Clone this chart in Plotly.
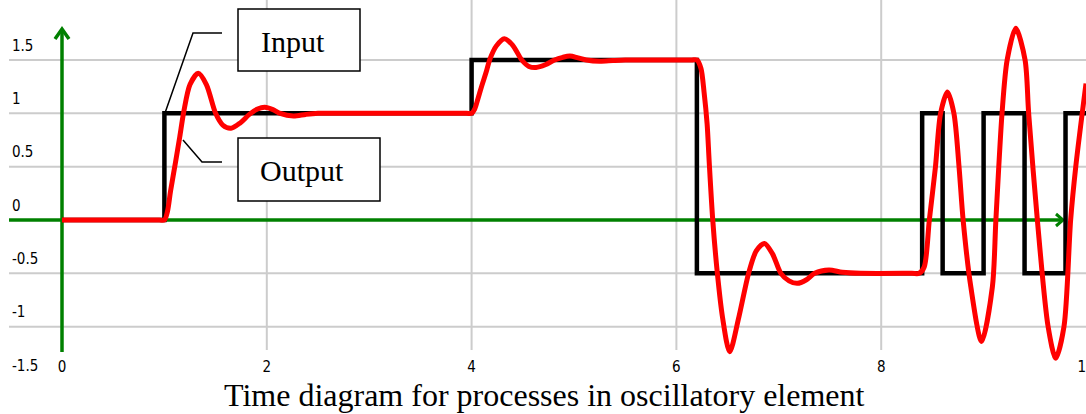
import plotly.graph_objects as go

# tick labels
x_ticks = [0, 2, 4, 6, 8, 10]
x_labels = ["0", "2", "4", "6", "8", "10"]
y_ticks = [-1.5, -1, -0.5, 0, 0.5, 1, 1.5]
y_labels = ["-1.5", "-1", "-0.5", "0", "0.5", "1", "1.5"]
grid_x = [2, 4, 6, 8]
grid_y = [-1, -0.5, 0.5, 1, 1.5]

# input signal (step changes, drawn with hv shape)
input_t = [0, 1, 4, 6.2, 8.4, 8.6, 9.0, 9.4, 9.8, 10]
input_y = [0, 1, 1.5, -0.5, 1, -0.5, 1, -0.5, 1, 1]

# output signal
output_t = [0, 0.95, 1.0, 1.03, 1.06, 1.11, 1.15, 1.19, 1.25, 1.33, 1.41, 1.50, 1.57,
            1.65, 1.74, 1.83, 1.91, 1.98, 2.06, 2.13, 2.26, 2.38, 2.5, 3.0, 3.95,
            4.0, 4.03, 4.06, 4.10, 4.14, 4.18, 4.24, 4.32, 4.40, 4.49, 4.56, 4.63,
            4.72, 4.81, 4.89, 4.96, 5.04, 5.12, 5.25, 5.38, 5.5, 6.0, 6.15,
            6.2, 6.24, 6.27, 6.30, 6.32, 6.355, 6.40, 6.45, 6.52, 6.61, 6.705,
            6.78, 6.86, 6.94, 7.02, 7.10, 7.18, 7.27, 7.35, 7.49, 7.62, 7.8, 8.3,
            8.37, 8.42, 8.47, 8.53, 8.58, 8.647, 8.71, 8.76, 8.80, 8.875, 8.98,
            9.086, 9.12, 9.18, 9.23, 9.314, 9.405, 9.44, 9.525, 9.63, 9.704,
            9.785, 9.85, 9.9, 10.0]
output_y = [0, 0, 0, 0.08, 0.27, 0.55, 0.78, 1.02, 1.27, 1.375, 1.27, 1.0, 0.89,
            0.86, 0.91, 0.99, 1.04, 1.056, 1.035, 1.0, 0.975, 0.99, 1.0, 1.0, 1.0,
            1.0, 1.04, 1.13, 1.26, 1.38, 1.51, 1.63, 1.70, 1.64, 1.50, 1.44, 1.43,
            1.455, 1.50, 1.525, 1.537, 1.52, 1.50, 1.488, 1.495, 1.5, 1.5, 1.5,
            1.5, 1.42, 1.2, 0.9, 0.55, 0.0, -0.5, -0.91, -1.235, -0.91, -0.5,
            -0.29, -0.22, -0.32, -0.5, -0.57, -0.594, -0.56, -0.5, -0.469, -0.49, -0.5, -0.5,
            -0.5, -0.44, 0.0, 0.5, 1.0, 1.20, 1.0, 0.5, 0.0, -0.625, -1.14,
            -0.625, 0.0, 1.0, 1.5, 1.797, 1.5, 1.0, 0.0, -1.0, -1.297,
            -1.0, 0.0, 0.5, 1.28]

# geometry in page pixels (body margin is removed after plotting)
W, H = 1086, 414
P_LEFT, P_TOP, P_BOTTOM = 9, 0, 380
ML, MB = P_LEFT, H - P_BOTTOM
PW, PH = W - P_LEFT, P_BOTTOM - P_TOP
XR = [-53 / 102.4, 10.0]
YR = [-1.5, (220 - P_TOP) / 106.67]


def px_x(p):
    return XR[0] + (p - P_LEFT) / PW * (XR[1] - XR[0])


def px_y(p):
    return YR[1] - (p - P_TOP) / PH * (YR[1] - YR[0])


GREEN = "#008000"
GRID = "#cccccc"
TICKFONT = dict(family="Liberation Sans Narrow, DejaVu Sans Condensed, Arial", size=15, color="#000000")
SERIF = "Liberation Serif, Times New Roman, serif"

fig = go.Figure()

fig.add_trace(go.Scatter(
    x=input_t, y=input_y, mode="lines", line_shape="hv",
    line=dict(color="black", width=4.5), name="Input", hoverinfo="skip",
))
fig.add_trace(go.Scatter(
    x=output_t, y=output_y, mode="lines", line_shape="spline",
    line=dict(color="#ff0000", width=5, smoothing=0.8), name="Output", hoverinfo="skip",
))

shapes = []
# grid
for t in grid_x:
    shapes.append(dict(type="line", xref="x", yref="paper", x0=t, x1=t,
                       y0=(P_BOTTOM - 350) / PH, y1=1, layer="below",
                       line=dict(color=GRID, width=2)))
for v in grid_y:
    shapes.append(dict(type="line", xref="paper", yref="y", x0=0, x1=1, y0=v, y1=v,
                       layer="below", line=dict(color=GRID, width=2)))

# green axes with arrow heads
shapes.append(dict(type="line", xref="x", yref="y", x0=0, x1=0, y0=px_y(352), y1=px_y(30),
                   layer="between", line=dict(color=GREEN, width=3.5)))
shapes.append(dict(type="path", xref="x", yref="y", layer="between",
                   path=f"M {px_x(55)},{px_y(39)} L 0,{px_y(29)} L {px_x(69)},{px_y(39)}",
                   line=dict(color=GREEN, width=3.5)))
shapes.append(dict(type="line", xref="paper", yref="y", x0=0, x1=(1062 - P_LEFT) / PW, y0=0, y1=0,
                   layer="between", line=dict(color=GREEN, width=3.5)))
shapes.append(dict(type="path", xref="x", yref="y", layer="between",
                   path=f"M {px_x(1056)},{px_y(214)} L {px_x(1063)},0 L {px_x(1056)},{px_y(226)}",
                   line=dict(color=GREEN, width=3)))

# label boxes and leader lines
shapes.append(dict(type="rect", xref="x", yref="y", x0=px_x(238), x1=px_x(360),
                   y0=px_y(9), y1=px_y(71), layer="above", fillcolor="white",
                   line=dict(color="black", width=1.5)))
shapes.append(dict(type="rect", xref="x", yref="y", x0=px_x(238), x1=px_x(380),
                   y0=px_y(138), y1=px_y(201), layer="above", fillcolor="white",
                   line=dict(color="black", width=1.5)))
shapes.append(dict(type="path", xref="x", yref="y", layer="above",
                   path=f"M {px_x(222)},{px_y(33)} L {px_x(193)},{px_y(33)} L {px_x(165)},{px_y(113)}",
                   line=dict(color="black", width=1.5)))
shapes.append(dict(type="path", xref="x", yref="y", layer="above",
                   path=f"M {px_x(222)},{px_y(162)} L {px_x(202)},{px_y(162)} L {px_x(183)},{px_y(140)}",
                   line=dict(color="black", width=1.5)))

annotations = [
    dict(text="Input", xref="x", yref="y", x=px_x(259), y=px_y(41), xanchor="left",
         yanchor="middle", showarrow=False, font=dict(family=SERIF, size=30, color="black")),
    dict(text="Output", xref="x", yref="y", x=px_x(258), y=px_y(170), xanchor="left",
         yanchor="middle", showarrow=False, font=dict(family=SERIF, size=30, color="black")),
    dict(text="Time diagram for processes in oscillatory element", xref="paper", yref="paper",
         x=(544 - P_LEFT) / PW, y=(P_BOTTOM - 395) / PH, xanchor="center", yanchor="middle",
         showarrow=False, font=dict(family=SERIF, size=32, color="black")),
]

fig.update_layout(
    autosize=False,
    width=W, height=H,
    margin=dict(l=ML, r=0, t=0, b=MB, pad=0),
    paper_bgcolor="white", plot_bgcolor="white",
    showlegend=False,
    shapes=shapes,
    annotations=annotations,
    xaxis=dict(
        range=XR, tickvals=x_ticks, ticktext=x_labels, ticks="", automargin=False,
        ticklabelposition="inside", ticklabeloverflow="allow", ticklabelstandoff=2,
        showgrid=False, zeroline=False, showline=False, tickfont=TICKFONT,
    ),
    yaxis=dict(
        range=YR, tickvals=y_ticks, ticktext=y_labels, ticks="", automargin=False,
        ticklabelposition="inside top", ticklabeloverflow="allow", ticklabelshift=-4,
        showgrid=False, zeroline=False, showline=False, tickfont=TICKFONT,
    ),
)

fig.write_html("out.html", config={"displayModeBar": False},
               post_script="document.body.style.margin = '0';")
